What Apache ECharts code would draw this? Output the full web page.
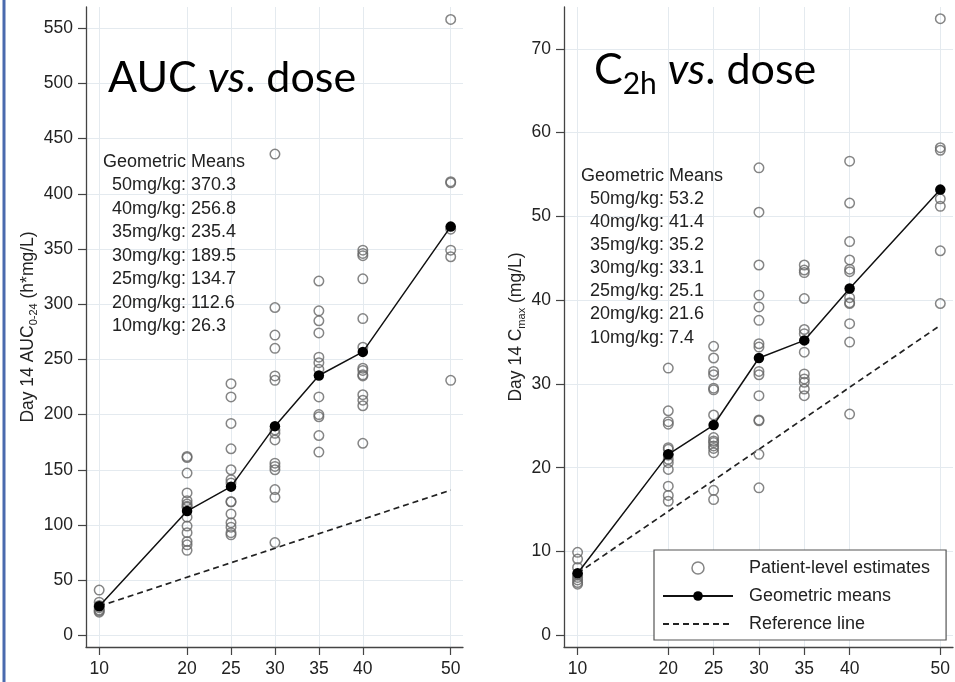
<!DOCTYPE html>
<html>
<head>
<meta charset="utf-8">
<script src="https://cdn.jsdelivr.net/npm/echarts@6/dist/echarts.min.js"></script>
<style>
  html, body { margin: 0; padding: 0; background: #fff; }
  #chart { width: 955px; height: 682px; }
</style>
</head>
<body>
<div id="chart"></div>
<script>
// Dose levels (mg/kg) and axis ticks
const doses = [10, 20, 25, 30, 35, 40, 50];
const doseTicks = [10, 20, 25, 30, 35, 40, 50];
const aucTicks = [0, 50, 100, 150, 200, 250, 300, 350, 400, 450, 500, 550];
const c2hTicks = [0, 10, 20, 30, 40, 50, 60, 70];

// Day 14 AUC0-24 (h*mg/L), patient-level estimates per dose
const auc10 = [41, 30, 27, 25, 23, 22, 21];
const auc20 = [162, 161, 147, 129, 122, 119, 117, 116, 107, 99, 93, 85, 82, 77];
const auc25 = [228, 216, 192, 169, 150, 141, 138, 121, 121, 110, 102, 98, 93, 91];
const auc30 = [436, 297, 272, 260, 235, 231, 186, 183, 177, 156, 153, 150, 132, 125, 84];
const auc35 = [321, 294, 285, 274, 252, 247, 241, 216, 200, 198, 181, 166];
const auc40 = [349, 346, 344, 323, 287, 261, 242, 240, 236, 235, 218, 213, 208, 174];
const auc50 = [558, 411, 410, 368, 349, 343, 231];

// Day 14 Cmax (mg/L), patient-level estimates per dose
const c2h10 = [9.9, 9.1, 8.1, 7.2, 6.9, 6.6, 6.3, 6.1];
const c2h20 = [31.9, 26.8, 25.5, 25.2, 22.4, 22.2, 21.5, 21.0, 20.6, 19.8, 17.8, 16.7, 16.0];
const c2h25 = [34.5, 33.1, 31.5, 31.1, 29.5, 29.3, 26.3, 23.6, 23.2, 23.0, 22.6, 22.3, 21.8, 17.3, 16.2];
const c2h30 = [55.8, 50.5, 44.2, 40.6, 39.2, 37.6, 34.8, 34.4, 31.5, 31.1, 28.6, 25.7, 25.6, 21.6, 17.6];
const c2h35 = [44.2, 43.6, 43.3, 40.2, 36.5, 36.0, 33.8, 31.2, 30.6, 30.2, 29.4, 28.6];
const c2h40 = [56.6, 51.6, 47.0, 44.8, 43.7, 43.4, 40.3, 39.7, 39.6, 37.2, 35.0, 26.4];
const c2h50 = [73.6, 58.2, 57.9, 52.1, 51.2, 45.9, 39.6];

// Geometric means per dose
const aucMeans = [26.3, 112.6, 134.7, 189.5, 235.4, 256.8, 370.3];
const c2hMeans = [7.4, 21.6, 25.1, 33.1, 35.2, 41.4, 53.2];

// Dose-proportional reference lines (anchored at the 10 mg/kg mean)
const refDoses = [10, 50];
const aucRef = [26.3, 131.5];
const c2hRef = [7.4, 37.0];

const aucGroups = [auc10, auc20, auc25, auc30, auc35, auc40, auc50];
const c2hGroups = [c2h10, c2h20, c2h25, c2h30, c2h35, c2h40, c2h50];

const FONT = '"Liberation Sans", Arial, sans-serif';
const TITLE_FONT = 'Lato, "Open Sans", sans-serif';
const NAMES = ['Patient-level estimates', 'Geometric means', 'Reference line'];

function patientPoints(groups) {
  const out = [];
  groups.forEach((vals, i) => vals.forEach(v => out.push([doses[i], v])));
  return out;
}
function zipXY(xs, ys) { return xs.map((x, i) => [x, ys[i]]); }
function meansText(means) {
  const lines = [];
  for (let i = doses.length - 1; i >= 0; i--) {
    lines.push(doses[i] + 'mg/kg: ' + means[i].toFixed(1));
  }
  return lines.join('\n');
}

function xAxisCfg(gridIndex) {
  return {
    type: 'value', gridIndex, min: 8.5, max: 51.4,
    axisLine: { onZero: false, lineStyle: { color: '#444', width: 1.3 } },
    axisTick: { show: true, customValues: doseTicks, length: 8, lineStyle: { color: '#444', width: 1.2 } },
    axisLabel: { customValues: doseTicks, fontSize: 17.5, color: '#222', fontFamily: FONT, margin: 13.5 },
    splitLine: { show: true, lineStyle: { color: '#e4eaef', width: 1 } }
  };
}
function yAxisCfg(gridIndex, min, max, ticks, name, gap) {
  return {
    type: 'value', gridIndex, min, max,
    name, nameLocation: 'middle', nameGap: gap,
    nameTextStyle: {
      fontSize: 17.5, color: '#222', fontFamily: FONT, lineHeight: 22,
      rich: { sub: { fontSize: 11, lineHeight: 10, verticalAlign: 'bottom', color: '#222', fontFamily: FONT } }
    },
    axisLine: { show: true, onZero: false, lineStyle: { color: '#444', width: 1.3 } },
    axisTick: { show: true, customValues: ticks, length: 8, lineStyle: { color: '#444', width: 1.2 } },
    axisLabel: { customValues: ticks, fontSize: 17.5, color: '#222', fontFamily: FONT, margin: 13 },
    splitLine: { show: true, lineStyle: { color: '#e4eaef', width: 1 } }
  };
}

const hollow = { color: 'rgba(0,0,0,0)', borderColor: '#666', borderWidth: 1.5 };

function panelSeries(idx, groups, means, ref) {
  return [
    { name: NAMES[0], type: 'scatter', xAxisIndex: idx, yAxisIndex: idx,
      symbol: 'circle', symbolSize: 9.5, itemStyle: hollow, z: 3,
      data: patientPoints(groups) },
    { name: NAMES[2], type: 'line', xAxisIndex: idx, yAxisIndex: idx,
      symbol: 'none', lineStyle: { color: '#222', width: 1.7, type: [6, 4] }, z: 2,
      data: zipXY(refDoses, ref) },
    { name: NAMES[1], type: 'line', xAxisIndex: idx, yAxisIndex: idx,
      symbol: 'circle', symbolSize: 10.5, showAllSymbol: true,
      itemStyle: { color: '#000' }, lineStyle: { color: '#111', width: 1.5 }, z: 4,
      data: zipXY(doses, means) }
  ];
}

const chart = echarts.init(document.getElementById('chart'), null, { renderer: 'canvas' });
chart.setOption({
  animation: false,
  backgroundColor: '#fff',
  grid: [
    { left: 86, top: 7, width: 377, height: 640 },
    { left: 564, top: 7, width: 389, height: 640 }
  ],
  xAxis: [xAxisCfg(0), xAxisCfg(1)],
  yAxis: [
    yAxisCfg(0, -10.6, 569.3, aucTicks, 'Day 14 AUC{sub|0-24} (h*mg/L)', 47),
    yAxisCfg(1, -1.4, 75.0, c2hTicks, 'Day 14 C{sub|max} (mg/L)', 36)
  ],
  legend: {
    orient: 'vertical', left: 654, top: 550,
    padding: [8, 16, 6, 8], itemWidth: 70, itemHeight: 12, itemGap: 8,
    backgroundColor: '#fff', borderColor: '#555', borderWidth: 1.2, borderRadius: 0,
    selectedMode: false,
    textStyle: { fontSize: 18, color: '#222', fontFamily: FONT, lineHeight: 20, padding: [0, 0, 0, 11] },
    data: [
      { name: NAMES[0], icon: 'circle', itemStyle: { color: 'rgba(0,0,0,0)', borderColor: '#666', borderWidth: 1.5 } },
      { name: NAMES[1], itemStyle: { color: '#000' } },
      { name: NAMES[2], itemStyle: { opacity: 0 } }
    ]
  },
  series: [
    ...panelSeries(0, aucGroups, aucMeans, aucRef),
    ...panelSeries(1, c2hGroups, c2hMeans, c2hRef)
  ],
  graphic: [
    { type: 'rect', silent: true, shape: { x: 2.5, y: 0, width: 3, height: 682 }, style: { fill: '#4a6aae' } },
    { type: 'text', silent: true, x: 108, y: 78, z: 10,
      style: {
        text: 'AUC {it|vs}. dose', fill: '#000', font: '43px ' + TITLE_FONT,
        verticalAlign: 'middle', align: 'left',
        rich: { it: { fontStyle: 'italic', fontSize: 43, fontFamily: TITLE_FONT, fill: '#000' } }
      } },
    { type: 'text', silent: true, x: 594, y: 70.5, z: 10,
      style: {
        text: '{m|C}{s|2h}{m| }{i|vs}{m|. dose}', fill: '#000',
        verticalAlign: 'middle', align: 'left',
        rich: {
          m: { fontSize: 43, fontFamily: TITLE_FONT, lineHeight: 58, fill: '#000' },
          i: { fontSize: 43, fontFamily: TITLE_FONT, lineHeight: 58, fontStyle: 'italic', fill: '#000' },
          s: { fontSize: 30, fontFamily: TITLE_FONT, lineHeight: 31, verticalAlign: 'bottom', fill: '#000' }
        }
      } },
    { type: 'text', silent: true, x: 103, y: 162, z: 10,
      style: { text: 'Geometric Means', font: '18px ' + FONT, fill: '#222', verticalAlign: 'middle' } },
    { type: 'text', silent: true, x: 112, y: 173.75, z: 10,
      style: { text: meansText(aucMeans), font: '18px ' + FONT, fill: '#222', lineHeight: 23.5, verticalAlign: 'top' } },
    { type: 'text', silent: true, x: 581, y: 176, z: 10,
      style: { text: 'Geometric Means', font: '18px ' + FONT, fill: '#222', verticalAlign: 'middle' } },
    { type: 'text', silent: true, x: 590, y: 187.45, z: 10,
      style: { text: meansText(c2hMeans), font: '18px ' + FONT, fill: '#222', lineHeight: 23.1, verticalAlign: 'top' } }
  ]
});
</script>
</body>
</html>
